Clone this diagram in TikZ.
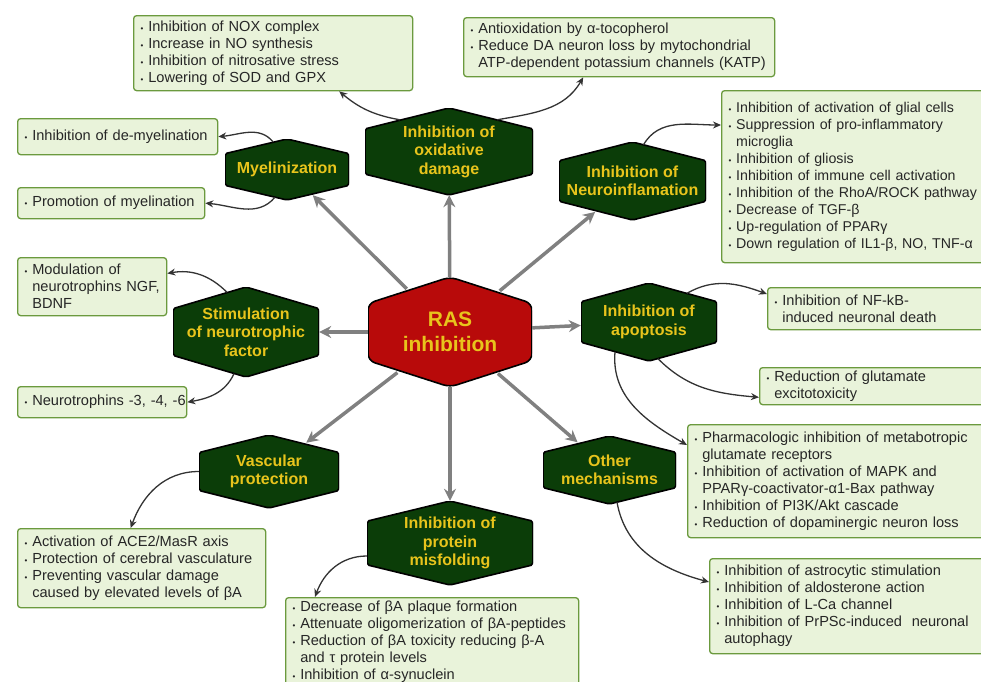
\documentclass[tikz,border=0pt]{standalone}
\usepackage{fontspec}
\setmainfont{Liberation Sans}
\usetikzlibrary{calc,arrows.meta}
\definecolor{hexgreen}{HTML}{0B3D08}
\definecolor{rasred}{HTML}{B80A0A}
\definecolor{gold}{HTML}{E8C41C}
\definecolor{boxfill}{HTML}{E9F3DA}
\definecolor{boxline}{HTML}{6B9A3E}
\newcommand{\li}[1]{\mbox{{\footnotesize\textbullet}\ #1}}
\newcommand{\lc}[1]{\mbox{\phantom{{\footnotesize\textbullet}\ }#1}}

\begin{document}
\begin{tikzpicture}[x=1pt,y=1pt,
    mech/.style={rectangle, inner sep=0pt, align=center, text=gold, font=\bfseries\fontsize{16}{18.5}\selectfont,
      path picture={\fill[draw=black, line width=1.6pt, rounded corners=#1, fill=\hexcol]
        (path picture bounding box.north)
        -- ($(path picture bounding box.north east)!.24!(path picture bounding box.south east)$)
        -- ($(path picture bounding box.north east)!.76!(path picture bounding box.south east)$)
        -- (path picture bounding box.south)
        -- ($(path picture bounding box.north west)!.76!(path picture bounding box.south west)$)
        -- ($(path picture bounding box.north west)!.24!(path picture bounding box.south west)$) -- cycle;}},
    mech/.default=2pt,
    info/.style={rectangle, draw=boxline, line width=1.3pt, fill=boxfill, rounded corners=3pt, anchor=north west, align=left, inner xsep=7pt, inner ysep=0pt, font=\fontsize{14.6}{17}\selectfont, text=black!85},
    spoke/.style={draw=black!50, line width=3.5pt, -{Stealth[length=12pt,width=12pt,inset=4pt]}},
    branch/.style={draw=black!80, line width=1.3pt, -{Stealth[length=8pt,width=7pt]}}]
    \useasboundingbox (0,0) rectangle (981,-681);
    \clip (0,0) rectangle (981,-681);

    \def\hexcol{rasred}
    \node[mech=7pt, font=\bfseries\fontsize{21}{25}\selectfont, minimum width=164pt, minimum height=110pt] (ras) at (450,-332) {RAS\\inhibition};
    \def\hexcol{hexgreen}
    \node[mech, minimum width=168pt, minimum height=87pt] (oxid) at (449,-151.5) {Inhibition of\\oxidative\\damage};
    \node[mech, minimum width=124pt, minimum height=61pt] (myel) at (287,-169.5) {Myelinization};
    \node[mech, minimum width=147pt, minimum height=78pt] (neuro) at (632.5,-181) {Inhibition of\\Neuroinflamation};
    \node[mech, minimum width=146pt, minimum height=90pt] (stim) at (246,-332) {Stimulation\\of neurotrophic\\factor};
    \node[mech, minimum width=136pt, minimum height=78pt] (apop) at (649,-322) {Inhibition of\\apoptosis};
    \node[mech, minimum width=133pt, minimum height=68pt] (other) at (609.5,-470) {Other\\mechanisms};
    \node[mech, minimum width=140pt, minimum height=73pt] (vasc) at (269,-471.5) {Vascular\\protection};
    \node[mech, minimum width=166pt, minimum height=84pt] (prot) at (450,-543) {Inhibition of\\protein\\misfolding};

    \node[info, minimum width=279pt, minimum height=75pt, text width=265pt] (noxbox) at (133,-15) {\li{Inhibition of NOX complex}\\\li{Increase in NO synthesis}\\\li{Inhibition of nitrosative stress}\\\li{Lowering of SOD and GPX}};
    \node[info, minimum width=311pt, minimum height=59pt, text width=297pt] (tocobox) at (463,-17) {\li{Antioxidation by α-tocopherol}\\\li{Reduce DA neuron loss by mytochondrial}\\\lc{ATP-dependent potassium channels (KATP)}};
    \node[info, minimum width=300pt, minimum height=172pt, text width=286pt, font=\fontsize{14.2}{17}\selectfont] (gliabox) at (721,-90) {\li{Inhibition of activation of glial cells}\\\li{Suppression of pro-inflammatory}\\\lc{microglia}\\\li{Inhibition of gliosis}\\\li{Inhibition of immune cell activation}\\\li{Inhibition of the RhoA/ROCK pathway}\\\li{Decrease of TGF-β}\\\li{Up-regulation of PPARγ}\\\li{Down regulation of IL1-β, NO, TNF-α}};
    \node[info, minimum width=200pt, minimum height=36pt, text width=186pt] (demyelbox) at (17,-118) {\li{Inhibition of de-myelination}};
    \node[info, minimum width=187pt, minimum height=31pt, text width=173pt] (myelbox) at (17,-187) {\li{Promotion of myelination}};
    \node[info, minimum width=149pt, minimum height=58pt, text width=135pt] (ngfbox) at (17,-257) {\li{Modulation of}\\\lc{neurotrophins NGF,}\\\lc{BDNF}};
    \node[info, minimum width=169pt, minimum height=31pt, text width=155pt] (ntbox) at (17,-386) {\li{Neurotrophins -3, -4, -6}};
    \node[info, minimum width=250pt, minimum height=42pt, text width=236pt] (nfkbbox) at (767,-287) {\li{Inhibition of NF-kB-}\\\lc{induced neuronal death}};
    \node[info, minimum width=250pt, minimum height=37pt, text width=236pt] (glutbox) at (759,-367) {\li{Reduction of glutamate}\\\lc{excitotoxicity}};
    \node[info, minimum width=320pt, minimum height=113pt, text width=306pt] (mglurbox) at (687,-424) {\li{Pharmacologic inhibition of metabotropic}\\\lc{glutamate receptors}\\\li{Inhibition of activation of MAPK and}\\\lc{PPARγ-coactivator-α1-Bax pathway}\\\li{Inhibition of PI3K/Akt cascade}\\\li{Reduction of dopaminergic neuron loss}};
    \node[info, minimum width=300pt, minimum height=95pt, text width=286pt] (astrobox) at (709,-558) {\li{Inhibition of astrocytic stimulation}\\\li{Inhibition of aldosterone action}\\\li{Inhibition of L-Ca channel}\\\li{Inhibition of PrPSc-induced\ \ neuronal}\\\lc{autophagy}};
    \node[info, minimum width=248pt, minimum height=79pt, text width=234pt] (acebox) at (17,-528) {\li{Activation of ACE2/MasR axis}\\\li{Protection of cerebral vasculature}\\\li{Preventing vascular damage}\\\lc{caused by elevated levels of βA}};
    \node[info, minimum width=293pt, text width=279pt, inner ysep=3pt] (betabox) at (285,-597) {\li{Decrease of βA plaque formation}\\\li{Attenuate oligomerization of βA-peptides}\\\li{Reduction of βA toxicity reducing β-A}\\\lc{and τ protein levels}\\\li{Inhibition of α-synuclein}\\\lc{}\\\lc{}};

    \draw[spoke] (ras) -- (oxid);
    \draw[spoke, shorten <=-17pt, shorten >=-7pt] (ras) -- (myel);
    \draw[spoke, shorten <=-22pt, shorten >=-13pt] (ras) -- (neuro);
    \draw[spoke] (ras) -- (stim);
    \draw[spoke] (ras) -- (apop);
    \draw[spoke, shorten <=-21pt, shorten >=-10pt] (ras) -- (other);
    \draw[spoke, shorten <=-24pt, shorten >=-13pt] (ras) -- (vasc);
    \draw[spoke] (ras) -- (prot);

    \draw[branch] ([xshift=-49pt,yshift=-12pt]oxid.north) to[out=170,in=-40] (noxbox.-30);
    \draw[branch] ([xshift=48pt,yshift=-12pt]oxid.north) to[out=10,in=-120] (tocobox.220);
    \draw[branch] ([xshift=11pt,yshift=-3pt]neuro.north) to[out=60,in=180] ([yshift=-35pt]gliabox.north west);
    \draw[branch] ([xshift=-14pt,yshift=-3pt]myel.north) to[out=130,in=5] (demyelbox.east);
    \draw[branch] ([xshift=-12pt,yshift=3pt]myel.south) to[out=230,in=-5] (myelbox.east);
    \draw[branch] ([xshift=-19pt,yshift=-5.5pt]stim.north) to[out=135,in=10] (ngfbox.10);
    \draw[branch] ([xshift=-12pt,yshift=3.5pt]stim.south) to[out=245,in=10] (ntbox.east);
    \draw[branch] ([xshift=38pt,yshift=-10.5pt]apop.north) to[out=30,in=160] ([yshift=-7pt]nfkbbox.north west);
    \draw[branch] ([xshift=9pt,yshift=2.5pt]apop.south) to[out=-45,in=175] ([yshift=8pt]glutbox.south west);
    \draw[branch] ([xshift=-34pt,yshift=9.4pt]apop.south) to[out=-95,in=150] ([yshift=-21pt]mglurbox.north west);
    \draw[branch] ([xshift=7.5pt,yshift=2pt]other.south) to[out=-80,in=165] ([yshift=-24pt]astrobox.north west);
    \draw[branch] (vasc.west) to[out=180,in=70] ([xshift=-11pt]acebox.north);
    \draw[branch] ([yshift=-13pt]prot.west) to[out=180,in=70] ([xshift=30pt]betabox.north west);
\end{tikzpicture}
\end{document}
